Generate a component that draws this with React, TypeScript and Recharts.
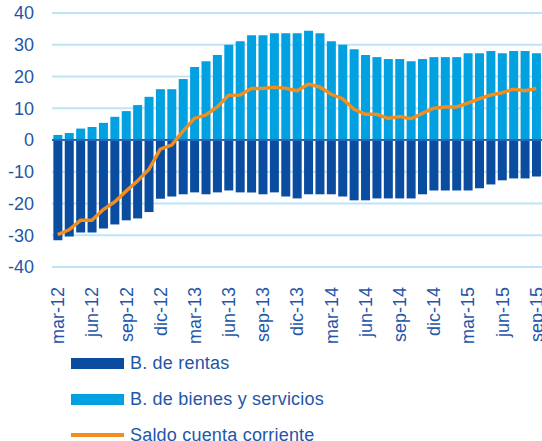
import { ComposedChart, Bar, Line, XAxis, YAxis, CartesianGrid, ReferenceLine, Legend } from 'recharts'

const meses = [
  'mar-12', 'abr-12', 'may-12', 'jun-12', 'jul-12', 'ago-12', 'sep-12', 'oct-12', 'nov-12', 'dic-12',
  'ene-13', 'feb-13', 'mar-13', 'abr-13', 'may-13', 'jun-13', 'jul-13', 'ago-13', 'sep-13', 'oct-13',
  'nov-13', 'dic-13', 'ene-14', 'feb-14', 'mar-14', 'abr-14', 'may-14', 'jun-14', 'jul-14', 'ago-14',
  'sep-14', 'oct-14', 'nov-14', 'dic-14', 'ene-15', 'feb-15', 'mar-15', 'abr-15', 'may-15', 'jun-15',
  'jul-15', 'ago-15', 'sep-15',
]

const rentas = [
  -31.6, -30.4, -29.1, -29.1, -27.9, -26.6, -25.3, -24.7, -22.7, -18.5,
  -17.8, -17.1, -16.5, -17.1, -16.5, -15.9, -16.5, -16.5, -17.1, -16.5,
  -17.8, -18.4, -17.1, -17.1, -17.1, -17.8, -19, -19, -18.4, -18.4,
  -18.4, -18.4, -17.1, -15.9, -15.9, -15.9, -15.9, -15.2, -14, -12.7,
  -12.1, -12.1, -11.5,
]

const bienes = [
  1.6, 2.2, 3.6, 4.1, 5.4, 7.3, 9.1, 11, 13.6, 16,
  16, 19.2, 23, 24.8, 26.8, 30, 31.1, 33, 33, 33.6,
  33.6, 33.6, 34.4, 33.6, 31.1, 30, 28.6, 26.8, 26.1, 25.5,
  25.5, 24.8, 25.5, 26.1, 26.1, 26.1, 27.3, 27.3, 28, 27.3,
  28, 28, 27.3,
]

const saldo = [
  -29.8, -28.3, -25.3, -25.3, -21.9, -19.5, -16.1, -12.9, -9.3, -2.9,
  -1.6, 2.8, 6.8, 7.9, 10.4, 14.1, 14.2, 16.2, 16.2, 16.6,
  16.3, 15.5, 17.6, 16.7, 14.4, 13, 9.7, 8.1, 8.1, 6.8,
  7.4, 6.7, 8.4, 10, 10.4, 10.4, 11.6, 13, 14.2, 14.9,
  16, 15.5, 16.2,
]

const yTicks = [-40, -30, -20, -10, 0, 10, 20, 30, 40]

const C = {
  rentas: '#0A4C9F',
  bienes: '#00A0E1',
  saldo: '#F28E1E',
  text: '#1F56A8',
  grid: '#BEE5F7',
  zero: '#2A64B4',
}

const FONT = '"Liberation Sans", Arial, sans-serif'

const data = meses.map((m, i) => ({ mes: m, rentas: rentas[i], bienes: bienes[i], saldo: saldo[i] }))

function MesTick({ x, y, payload }: any) {
  return (
    <g transform={`translate(${x},${y + 12})`}>
      <text textAnchor="end" transform="rotate(-90)" dy="0.36em" fill={C.text} fontSize={18} fontFamily={FONT}>
        {payload.value}
      </text>
    </g>
  )
}

const leyenda = [
  { label: 'B. de rentas', color: C.rentas, h: 11 },
  { label: 'B. de bienes y servicios', color: C.bienes, h: 11 },
  { label: 'Saldo cuenta corriente', color: C.saldo, h: 4 },
]

function Leyenda() {
  return (
    <div style={{ height: 110, paddingTop: 14, boxSizing: 'border-box' }}>
      {leyenda.map(l => (
        <div key={l.label} style={{ height: 36, display: 'flex', alignItems: 'center' }}>
          <div style={{ marginLeft: 71, width: 53, height: l.h, background: l.color }} />
          <span style={{ marginLeft: 6, color: C.text, fontSize: 18, fontFamily: FONT, letterSpacing: 0.2 }}>{l.label}</span>
        </div>
      ))}
    </div>
  )
}

export default function App() {
  return (
    <div style={{ position: 'absolute', left: 0, top: 0, width: 542, height: 441, overflow: 'hidden', background: '#fff' }}>
      <ComposedChart width={560} height={441} data={data} stackOffset="sign" barCategoryGap="12%"
        margin={{ top: 13, right: 18, left: 0, bottom: 0 }}>
        <CartesianGrid vertical={false} stroke={C.grid} strokeWidth={2} />
        <XAxis dataKey="mes" interval={2} tick={<MesTick />} tickLine={false} axisLine={false} height={64} />
        <YAxis domain={[-40, 40]} ticks={yTicks} width={52} tickLine={false} axisLine={false} tickMargin={12}
          tick={{ fill: C.text, fontSize: 18, fontFamily: FONT }} />
        <Bar dataKey="rentas" stackId="a" fill={C.rentas} isAnimationActive={false} />
        <Bar dataKey="bienes" stackId="a" fill={C.bienes} isAnimationActive={false} />
        <ReferenceLine y={0} stroke={C.zero} strokeWidth={2} />
        <Line dataKey="saldo" stroke={C.saldo} strokeWidth={3.5} dot={false} isAnimationActive={false} />
        <Legend verticalAlign="bottom" align="left" content={() => <Leyenda />} />
      </ComposedChart>
    </div>
  )
}
